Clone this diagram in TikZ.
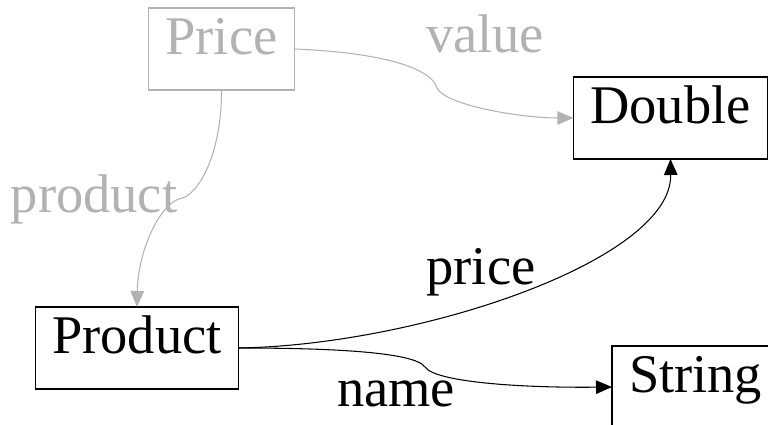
\documentclass[tikz,border=0pt]{standalone}
\usepackage{fontspec}
\setmainfont{Liberation Serif}
\usetikzlibrary{arrows.meta}
\definecolor{faded}{gray}{0.7}

\begin{document}
\begin{tikzpicture}[x=0.02cm, y=-0.02cm,
    font=\fontsize{31}{37}\selectfont,
    box/.style={draw, line width=0.6pt, inner xsep=0.34cm, inner ysep=0pt,
                outer sep=0pt, minimum height=1.64cm,
                text height=0.75em, text depth=0.09em},
    link/.style={line width=0.6pt, -{Triangle[length=0.32cm,width=0.27cm]}},
    lbl/.style={anchor=base, inner sep=0pt}]
  \useasboundingbox (0,0) rectangle (768,425);
  \clip (0,0) rectangle (768,425);

  % classes
  \node[box, faded] (price) at (221.5,49) {Price};
  \node[box] (double) at (670.5,118) {Double};
  \node[box] (product) at (137,348) {Product};
  \node[box, anchor=west] (string) at (612,387) {String};

  % attributes
  \draw[link, faded] (price.east) .. controls (370,52) and (430,65) .. (437,88)
        .. controls (445,105) and (520,118) .. (double.west);
  \draw[link, faded] (price.south) .. controls (222,150) and (200,196) .. (179,199)
        .. controls (160,205) and (138,250) .. (product.north);
  \draw[link] (product.east) .. controls (420,345) and (672,260) .. (double.south);
  \draw[link] (product.east) .. controls (330,348) and (415,352) .. (425,367)
        .. controls (435,382) and (520,388) .. (string.west);

  \node[lbl, faded] (valuelbl) at (485,53) {value};
  \node[lbl, faded] (productlbl) at (94,213) {product};
  \node[lbl] (pricelbl) at (481,285) {price};
  \node[lbl] (namelbl) at (396,407) {name};
\end{tikzpicture}
\end{document}
